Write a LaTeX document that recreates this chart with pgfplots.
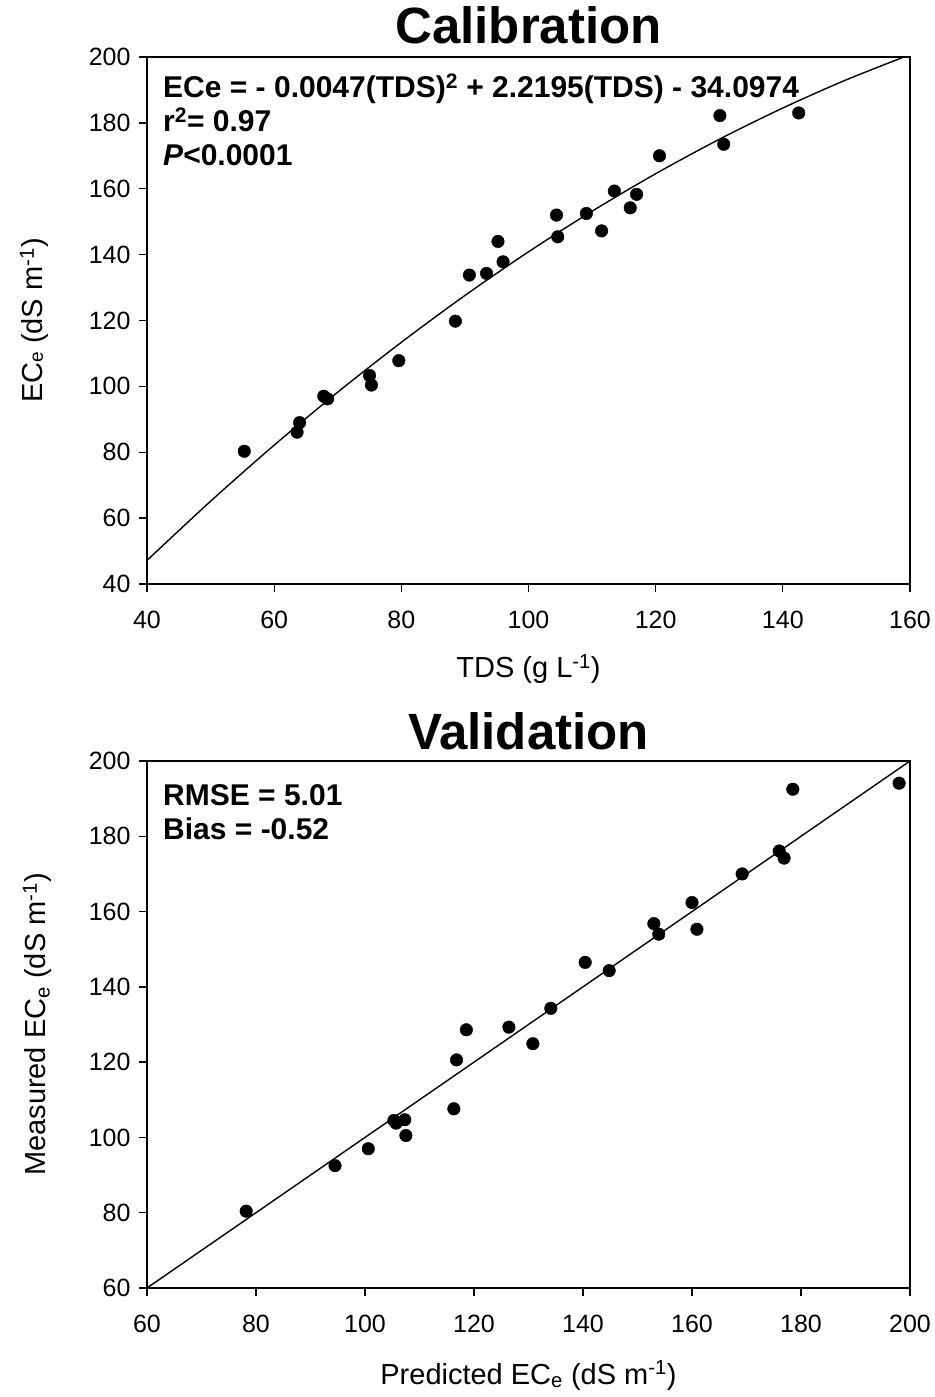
\documentclass[border=0pt]{standalone}
\usepackage{fontspec}
\setmainfont{Liberation Sans}
\usepackage{pgfplots}
\pgfplotsset{compat=1.18}

\newcommand{\tickfont}{\fontsize{25}{28}\selectfont}
\newcommand{\labfont}{\fontsize{29}{32}\selectfont}
\newcommand{\boxfont}{\fontsize{30}{34}\selectfont\bfseries}

\pgfplotsset{ecstyle/.style={
  scale only axis, width=763pt, height=527pt,
  axis line style={line width=1.8pt},
  tick align=outside, tick pos=left,
  major tick length=8pt, tick style={line width=1.3pt, black},
  /pgf/number format/assume math mode=true,
  tick label style={font=\tickfont},
  xticklabel style={yshift=-16pt},
  yticklabel style={xshift=-5pt},
  label style={font=\labfont},
  title style={font=\fontsize{51}{54}\selectfont\bfseries, at={(0.5,1)}, anchor=base, yshift=7pt, inner sep=0pt},
  xlabel style={at={(0.5,0)}, anchor=base, yshift=-94pt},
  ylabel style={at={(0,0.5)}, anchor=base},
}}

\begin{document}
\begin{tikzpicture}[x=1pt,y=1pt]
\path (0,0) rectangle (931,1397);

% calibration
\begin{axis}[ecstyle, at={(147pt,813pt)}, anchor=south west,
  xmin=40, xmax=160, ymin=40, ymax=200,
  xtick={40,60,...,160}, ytick={40,60,...,200},
  title={Calibration},
  ylabel style={yshift=104pt},
  xlabel={TDS (g L\textsuperscript{-1})},
  ylabel={EC{\fontsize{19}{19}\selectfont e} (dS m\textsuperscript{-1})}]
  \addplot[black, line width=1.4pt, smooth] coordinates {
    (40,47.16) (50,65.13) (60,82.15) (70,98.24) (80,113.38) (90,127.59)
    (100,140.85) (110,153.18) (120,164.56) (130,175.01) (140,184.51)
    (150,193.08) (160,200.70)};
  \addplot[only marks, mark=*, mark size=6.3pt, black] coordinates {
    (55.3,80.3) (63.6,86.1) (64.0,89.0) (67.8,97.0) (68.4,96.2) (75.0,103.3)
    (75.3,100.4) (79.6,107.8) (88.5,119.8) (90.7,133.8) (93.4,134.3) (95.2,144.0)
    (96.0,137.8) (104.4,152.0) (104.6,145.4) (109.1,152.5) (111.5,147.2)
    (113.5,159.3) (116.0,154.2) (117.0,158.3) (120.6,170.0) (130.1,182.2)
    (130.7,173.5) (142.5,183.0)};
  \node[anchor=north west, align=left, inner sep=0pt, font=\boxfont]
    at (rel axis cs:0.021,0.968)
    {ECe = - 0.0047(TDS)\textsuperscript{2} + 2.2195(TDS) - 34.0974\\
     r\textsuperscript{2}= 0.97\\
     \textit{P}<0.0001};
\end{axis}

% validation
\begin{axis}[ecstyle, at={(147pt,109pt)}, anchor=south west,
  xmin=60, xmax=200, ymin=60, ymax=200,
  xtick={60,80,...,200}, ytick={60,80,...,200},
  title={Validation},
  title style={yshift=-2pt},
  ylabel style={yshift=101pt},
  xlabel style={yshift=-2pt},
  xlabel={Predicted EC\textsubscript{e} (dS m\textsuperscript{-1})},
  ylabel={Measured EC\textsubscript{e} (dS m\textsuperscript{-1})}]
  \addplot[black, line width=1.4pt] coordinates {(60,60) (200,200)};
  \addplot[only marks, mark=*, mark size=6.3pt, black] coordinates {
    (78.2,80.4) (94.5,92.5) (100.6,97.0) (105.3,104.5) (105.7,103.8)
    (107.3,104.7) (107.5,100.5) (116.3,107.6) (116.8,120.6) (118.6,128.6)
    (126.4,129.3) (130.8,124.9) (134.1,134.3) (140.4,146.5) (144.8,144.3)
    (153.0,156.8) (153.9,154.0) (160.0,162.4) (160.9,155.3) (169.2,170.0)
    (176.0,176.1) (176.9,174.2) (178.5,192.5) (198.0,194.1)};
  \node[anchor=north west, align=left, inner sep=0pt, font=\boxfont]
    at (rel axis cs:0.021,0.955)
    {RMSE = 5.01\\
     Bias = -0.52};
\end{axis}
\end{tikzpicture}
\end{document}
